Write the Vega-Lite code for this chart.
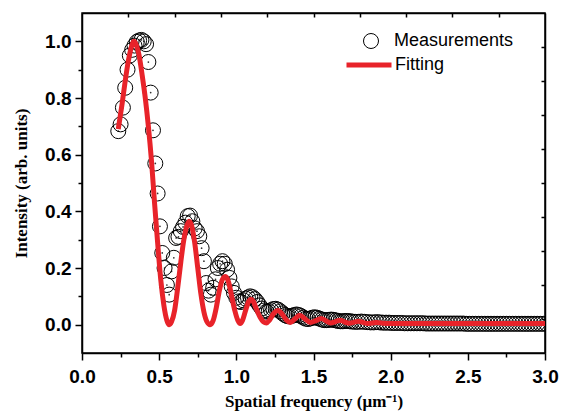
{
  "$schema": "https://vega.github.io/schema/vega-lite/v6.json",
  "width": 463,
  "height": 340,
  "autosize": "none",
  "padding": {"left": 82, "top": 13, "right": 27, "bottom": 59},
  "background": "white",
  "config": {
    "view": {"stroke": "black", "strokeWidth": 1.5},
    "axis": {"grid": false, "domainColor": "black", "domainWidth": 1.5, "tickColor": "black", "tickWidth": 1.5, "labelColor": "black", "titleColor": "black"}
  },
  "datasets": {
    "meas": [
      {"x":0.235,"y":0.683},{"x":0.25,"y":0.707},{"x":0.265,"y":0.766},{"x":0.28,"y":0.836},{"x":0.295,"y":0.9},{"x":0.31,"y":0.95},{"x":0.325,"y":0.97},{"x":0.34,"y":0.985},{"x":0.355,"y":0.998},{"x":0.37,"y":1.003},{"x":0.385,"y":1.005},{"x":0.4,"y":1.0},{"x":0.415,"y":0.99},{"x":0.43,"y":0.927},{"x":0.445,"y":0.819},{"x":0.46,"y":0.686},{"x":0.475,"y":0.569},{"x":0.49,"y":0.463},{"x":0.505,"y":0.347},{"x":0.52,"y":0.253},{"x":0.535,"y":0.2},{"x":0.55,"y":0.14},{"x":0.565,"y":0.106},{"x":0.58,"y":0.188},{"x":0.595,"y":0.236},{"x":0.61,"y":0.306},{"x":0.625,"y":0.31},{"x":0.64,"y":0.33},{"x":0.655,"y":0.345},{"x":0.67,"y":0.36},{"x":0.685,"y":0.383},{"x":0.7,"y":0.385},{"x":0.715,"y":0.365},{"x":0.73,"y":0.34},{"x":0.745,"y":0.33},{"x":0.76,"y":0.312},{"x":0.775,"y":0.27},{"x":0.79,"y":0.224},{"x":0.805,"y":0.147},{"x":0.82,"y":0.12},{"x":0.835,"y":0.106},{"x":0.85,"y":0.13},{"x":0.865,"y":0.16},{"x":0.88,"y":0.2},{"x":0.895,"y":0.215},{"x":0.91,"y":0.224},{"x":0.925,"y":0.215},{"x":0.94,"y":0.194},{"x":0.955,"y":0.165},{"x":0.97,"y":0.135},{"x":0.985,"y":0.112},{"x":1.0,"y":0.095},{"x":1.015,"y":0.082},{"x":1.03,"y":0.08},{"x":1.045,"y":0.086},{"x":1.06,"y":0.092},{"x":1.075,"y":0.096},{"x":1.09,"y":0.1},{"x":1.105,"y":0.097},{"x":1.12,"y":0.09},{"x":1.135,"y":0.08},{"x":1.15,"y":0.068},{"x":1.165,"y":0.057},{"x":1.18,"y":0.05},{"x":1.195,"y":0.046},{"x":1.21,"y":0.047},{"x":1.225,"y":0.051},{"x":1.24,"y":0.055},{"x":1.255,"y":0.056},{"x":1.27,"y":0.053},{"x":1.285,"y":0.047},{"x":1.3,"y":0.04},{"x":1.315,"y":0.034},{"x":1.33,"y":0.03},{"x":1.345,"y":0.029},{"x":1.36,"y":0.031},{"x":1.375,"y":0.034},{"x":1.39,"y":0.036},{"x":1.405,"y":0.034},{"x":1.42,"y":0.03},{"x":1.435,"y":0.025},{"x":1.45,"y":0.021},{"x":1.465,"y":0.02},{"x":1.48,"y":0.022},{"x":1.495,"y":0.025},{"x":1.51,"y":0.026},{"x":1.525,"y":0.024},{"x":1.54,"y":0.021},{"x":1.555,"y":0.018},{"x":1.57,"y":0.016},{"x":1.585,"y":0.016},{"x":1.6,"y":0.017},{"x":1.615,"y":0.018},{"x":1.63,"y":0.017},{"x":1.645,"y":0.015},{"x":1.66,"y":0.013},{"x":1.675,"y":0.012},{"x":1.69,"y":0.012},{"x":1.705,"y":0.013},{"x":1.72,"y":0.013},{"x":1.735,"y":0.012},{"x":1.75,"y":0.011},{"x":1.77,"y":0.01},{"x":1.79,"y":0.01},{"x":1.81,"y":0.011},{"x":1.83,"y":0.01},{"x":1.85,"y":0.009},{"x":1.87,"y":0.008},{"x":1.89,"y":0.008},{"x":1.91,"y":0.009},{"x":1.93,"y":0.008},{"x":1.95,"y":0.007},{"x":1.97,"y":0.007},{"x":1.99,"y":0.007},{"x":2.01,"y":0.006},{"x":2.03,"y":0.006},{"x":2.05,"y":0.006},{"x":2.07,"y":0.006},{"x":2.09,"y":0.005},{"x":2.11,"y":0.005},{"x":2.13,"y":0.005},{"x":2.15,"y":0.005},{"x":2.17,"y":0.005},{"x":2.19,"y":0.005},{"x":2.21,"y":0.005},{"x":2.23,"y":0.004},{"x":2.25,"y":0.004},{"x":2.27,"y":0.004},{"x":2.29,"y":0.004},{"x":2.31,"y":0.004},{"x":2.33,"y":0.004},{"x":2.35,"y":0.004},{"x":2.37,"y":0.004},{"x":2.39,"y":0.004},{"x":2.41,"y":0.004},{"x":2.43,"y":0.004},{"x":2.45,"y":0.004},{"x":2.47,"y":0.004},{"x":2.49,"y":0.003},{"x":2.51,"y":0.003},{"x":2.53,"y":0.003},{"x":2.55,"y":0.003},{"x":2.57,"y":0.003},{"x":2.59,"y":0.003},{"x":2.61,"y":0.003},{"x":2.63,"y":0.003},{"x":2.65,"y":0.003},{"x":2.67,"y":0.003},{"x":2.69,"y":0.003},{"x":2.71,"y":0.003},{"x":2.73,"y":0.003},{"x":2.75,"y":0.003},{"x":2.77,"y":0.003},{"x":2.79,"y":0.003},{"x":2.81,"y":0.003},{"x":2.83,"y":0.003},{"x":2.85,"y":0.003},{"x":2.87,"y":0.003},{"x":2.89,"y":0.003},{"x":2.91,"y":0.003},{"x":2.93,"y":0.003},{"x":2.95,"y":0.003},{"x":2.97,"y":0.003},{"x":2.99,"y":0.003},{"x":3.01,"y":0.003}
    ],
    "fit": [
      {"x":0.235,"y":0.69},{"x":0.26,"y":0.78},{"x":0.28,"y":0.86},{"x":0.3,"y":0.93},{"x":0.32,"y":0.98},{"x":0.335,"y":1.0},{"x":0.35,"y":0.99},{"x":0.37,"y":0.95},{"x":0.39,"y":0.88},{"x":0.41,"y":0.8},{"x":0.43,"y":0.7},{"x":0.45,"y":0.58},{"x":0.47,"y":0.43},{"x":0.49,"y":0.29},{"x":0.51,"y":0.16},{"x":0.53,"y":0.07},{"x":0.55,"y":0.015},{"x":0.565,"y":0.0},{"x":0.58,"y":0.01},{"x":0.6,"y":0.05},{"x":0.62,"y":0.13},{"x":0.64,"y":0.22},{"x":0.66,"y":0.3},{"x":0.68,"y":0.35},{"x":0.695,"y":0.365},{"x":0.71,"y":0.35},{"x":0.73,"y":0.29},{"x":0.75,"y":0.2},{"x":0.77,"y":0.11},{"x":0.79,"y":0.045},{"x":0.81,"y":0.01},{"x":0.83,"y":0.0},{"x":0.85,"y":0.015},{"x":0.87,"y":0.06},{"x":0.89,"y":0.12},{"x":0.91,"y":0.16},{"x":0.93,"y":0.17},{"x":0.95,"y":0.15},{"x":0.97,"y":0.1},{"x":0.99,"y":0.05},{"x":1.01,"y":0.015},{"x":1.025,"y":0.004},{"x":1.04,"y":0.015},{"x":1.06,"y":0.05},{"x":1.08,"y":0.082},{"x":1.095,"y":0.09},{"x":1.11,"y":0.082},{"x":1.13,"y":0.055},{"x":1.155,"y":0.025},{"x":1.175,"y":0.01},{"x":1.195,"y":0.006},{"x":1.215,"y":0.016},{"x":1.24,"y":0.038},{"x":1.27,"y":0.05},{"x":1.3,"y":0.035},{"x":1.325,"y":0.016},{"x":1.35,"y":0.008},{"x":1.375,"y":0.018},{"x":1.41,"y":0.033},{"x":1.445,"y":0.02},{"x":1.48,"y":0.008},{"x":1.515,"y":0.014},{"x":1.55,"y":0.022},{"x":1.58,"y":0.014},{"x":1.61,"y":0.006},{"x":1.64,"y":0.01},{"x":1.67,"y":0.016},{"x":1.7,"y":0.01},{"x":1.73,"y":0.005},{"x":1.76,"y":0.008},{"x":1.79,"y":0.012},{"x":1.82,"y":0.008},{"x":1.85,"y":0.004},{"x":1.88,"y":0.006},{"x":1.91,"y":0.008},{"x":1.95,"y":0.005},{"x":2.0,"y":0.004},{"x":2.2,"y":0.004},{"x":2.4,"y":0.004},{"x":2.6,"y":0.004},{"x":2.8,"y":0.004},{"x":3.0,"y":0.004}
    ]
  },
  "resolve": {"axis": {"x": "independent", "y": "independent"}},
  "layer": [
    {
      "data": {"name": "meas"},
      "mark": {"type": "point", "filled": false, "size": 225, "color": "black", "strokeWidth": 1, "opacity": 1, "clip": true},
      "encoding": {
        "x": {"field": "x", "type": "quantitative", "scale": {"domain": [0, 3], "nice": false, "zero": false},
          "axis": {"orient": "top", "values": [0.3,0.6,0.9,1.2,1.5,1.8,2.1,2.4,2.7], "labels": false, "title": null, "tickSize": -4}},
        "y": {"field": "y", "type": "quantitative", "scale": {"domain": [-0.1, 1.1], "nice": false, "zero": false},
          "axis": {"orient": "right", "values": [0.02,0.14,0.26,0.38,0.5,0.62,0.74,0.86,0.98], "labels": false, "title": null, "tickSize": -4}},
        "shape": {"datum": "Measurements", "scale": {"range": ["circle"]},
          "legend": {"title": null, "orient": "none", "legendX": 280, "legendY": 19, "padding": 0, "symbolSize": 225, "symbolStrokeColor": "black", "symbolFillColor": "transparent", "symbolStrokeWidth": 1, "labelFont": "Liberation Sans", "labelFontSize": 18, "labelColor": "black", "labelOffset": 14}}
      }
    },
    {
      "data": {"name": "meas"},
      "mark": {"type": "point", "filled": true, "size": 3, "color": "black", "opacity": 0.8, "clip": true},
      "encoding": {
        "x": {"field": "x", "type": "quantitative", "axis": null},
        "y": {"field": "y", "type": "quantitative", "axis": null}
      }
    },
    {
      "data": {"name": "fit"},
      "mark": {"type": "line", "strokeWidth": 5, "clip": true, "strokeJoin": "round", "strokeCap": "butt", "interpolate": "monotone"},
      "encoding": {
        "x": {"field": "x", "type": "quantitative",
          "axis": {"orient": "bottom", "values": [0,0.25,0.5,0.75,1,1.25,1.5,1.75,2,2.25,2.5,2.75,3],
            "labelExpr": "(round(datum.value*100) % 50 == 0) ? format(datum.value, '.1f') : ''",
            "tickSize": {"condition": {"test": "round(datum.value*100) % 50 == 0", "value": 7}, "value": 4},
            "labelFont": "Liberation Sans", "labelFontWeight": "bold", "labelFontSize": 19, "labelPadding": 7, "labelFlush": false, "labelOverlap": false,
            "title": "Spatial frequency (μm⁻¹)", "titleFont": "Liberation Serif", "titleFontWeight": "bold", "titleFontSize": 17, "titlePadding": 7}},
        "y": {"field": "y", "type": "quantitative",
          "axis": {"orient": "left", "values": [0,0.1,0.2,0.3,0.4,0.5,0.6,0.7,0.8,0.9,1.0],
            "labelExpr": "(round(datum.value*10) % 2 == 0) ? format(datum.value, '.1f') : ''",
            "tickSize": {"condition": {"test": "round(datum.value*10) % 2 == 0", "value": 7}, "value": 4},
            "labelFont": "Liberation Sans", "labelFontWeight": "bold", "labelFontSize": 19, "labelPadding": 4, "labelOverlap": false,
            "title": "Intensity (arb. units)", "titleFont": "Liberation Serif", "titleFontWeight": "bold", "titleFontSize": 17, "titlePadding": 14}},
        "color": {"datum": "Fitting", "scale": {"range": ["#e8232a"]},
          "legend": {"title": null, "orient": "none", "legendX": 262, "legendY": 27, "padding": 0, "symbolType": "stroke", "symbolSize": 2025, "symbolStrokeWidth": 5, "labelFont": "Liberation Sans", "labelFontSize": 18, "labelColor": "black", "labelOffset": 1}}
      }
    }
  ]
}
